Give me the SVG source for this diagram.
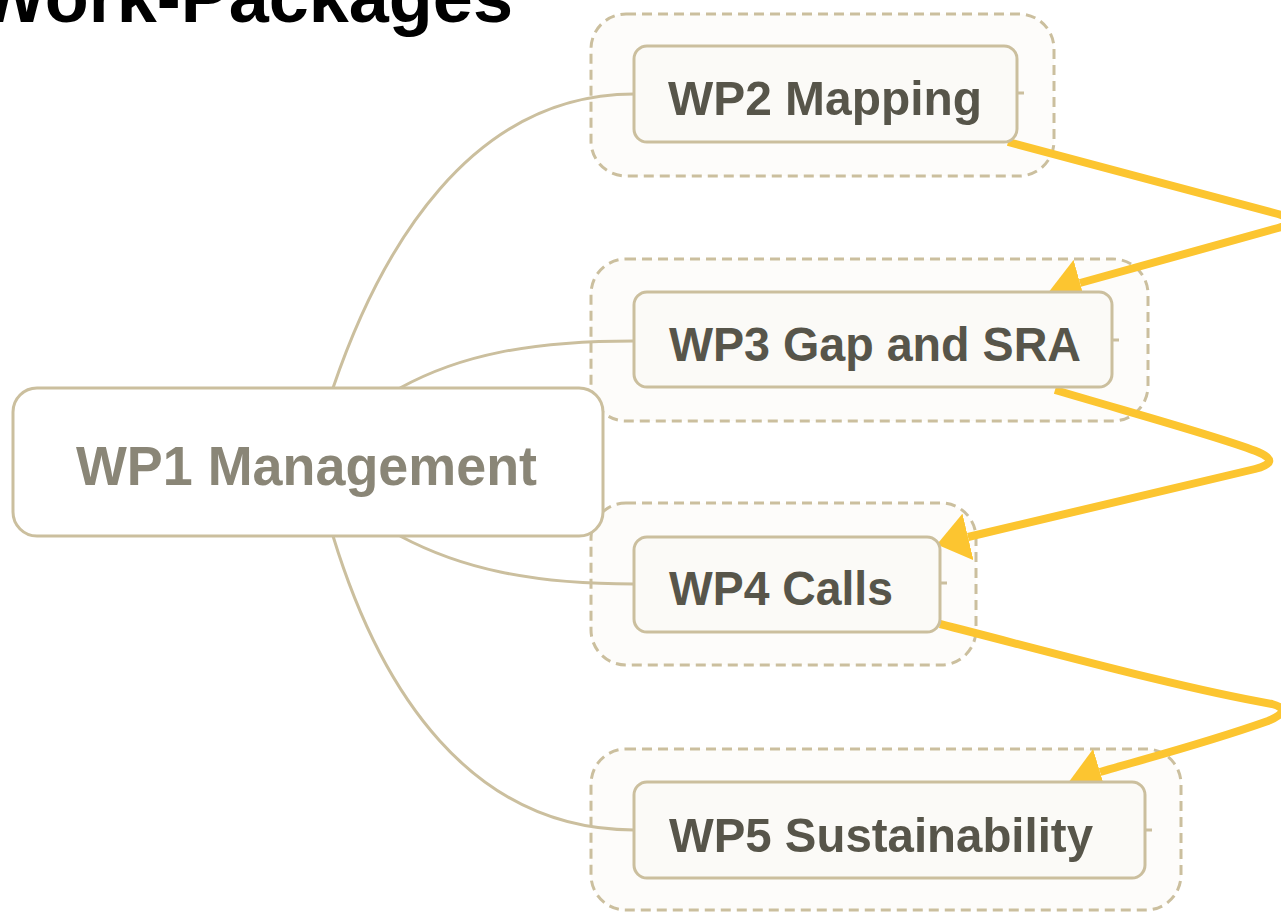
<svg xmlns="http://www.w3.org/2000/svg" width="1281" height="912" viewBox="0 0 1281 912">
<defs>
<style>
.grp{fill:#fdfcfa;stroke:#cbbf9e;stroke-width:3;stroke-dasharray:10 6}
.box{fill:#fbfaf7;stroke:#cbbf9e;stroke-width:3}
.lbl{font-family:"Liberation Sans",Arial,sans-serif;font-weight:bold;font-size:49px;fill:#57554a}
.tick{stroke:#cbbf9e;stroke-width:3;fill:none}
.link{fill:none;stroke:#cbbf9e;stroke-width:3}
.rel{fill:none;stroke:#fcc530;stroke-width:8;stroke-linejoin:round}
</style>
<marker id="arr" markerUnits="userSpaceOnUse" viewBox="0 0 32 48" refX="0" refY="24" markerWidth="32" markerHeight="48" orient="auto">
<path d="M0,0 L32,24 L0,48 z" fill="#fcc530"/>
</marker>
</defs>
<rect width="1281" height="912" fill="#ffffff"/>
<text x="-22" y="22" font-family="'Liberation Sans',Arial,sans-serif" font-weight="bold" font-size="72" fill="#000000">Work-Packages</text>

<g id="groups">
<rect class="grp" x="591" y="14" width="463" height="162" rx="35"/>
<rect class="grp" x="591" y="259" width="557" height="162" rx="35"/>
<rect class="grp" x="591" y="503" width="385" height="162" rx="35"/>
<rect class="grp" x="591" y="749" width="590" height="161" rx="35"/>
</g>

<g id="connectors">
<path class="link" d="M333,388 C380,250 470,94 634,94"/>
<path class="link" d="M400,388 C460,355 530,341 634,341"/>
<path class="link" d="M400,536 C460,568 530,584 634,584"/>
<path class="link" d="M333,536 C380,690 470,830 634,830"/>
<path class="rel" d="M1008,142 L1278,214 Q1302,221 1278,228 L1080,283" marker-end="url(#arr)"/>
<path class="rel" d="M1055,390 C1150,418 1230,440 1258,452 Q1282,462 1255,469 L968,537" marker-end="url(#arr)"/>
<path class="rel" d="M940,624 C1050,652 1180,688 1272,704 Q1294,710 1268,721 C1200,745 1140,760 1100,772" marker-end="url(#arr)"/>
</g>

<g id="wp2">
<rect class="box" x="634" y="46" width="383" height="96" rx="13"/>
<line class="tick" x1="1017" y1="93" x2="1024" y2="93"/>
<text class="lbl" x="668" y="115" textLength="314" lengthAdjust="spacingAndGlyphs">WP2 Mapping</text>
</g>
<g id="wp3">
<rect class="box" x="634" y="292" width="478" height="95" rx="13"/>
<line class="tick" x1="1112" y1="340" x2="1119" y2="340"/>
<text class="lbl" x="669" y="361" textLength="412" lengthAdjust="spacingAndGlyphs">WP3 Gap and SRA</text>
</g>
<g id="wp4">
<rect class="box" x="634" y="537" width="306" height="95" rx="13"/>
<line class="tick" x1="940" y1="583" x2="947" y2="583"/>
<text class="lbl" x="669" y="605" textLength="224" lengthAdjust="spacingAndGlyphs">WP4 Calls</text>
</g>
<g id="wp5">
<rect class="box" x="634" y="782" width="511" height="96" rx="13"/>
<line class="tick" x1="1145" y1="830" x2="1152" y2="830"/>
<text class="lbl" x="669" y="852" textLength="424" lengthAdjust="spacingAndGlyphs">WP5 Sustainability</text>
</g>
<g id="wp1">
<rect x="13" y="388" width="590" height="148" rx="24" fill="#ffffff" stroke="#cbbf9e" stroke-width="3"/>
<text x="76" y="485" font-family="'Liberation Sans',Arial,sans-serif" font-weight="bold" font-size="55" fill="#8a8677" textLength="461" lengthAdjust="spacingAndGlyphs">WP1 Management</text>
</g>
</svg>
